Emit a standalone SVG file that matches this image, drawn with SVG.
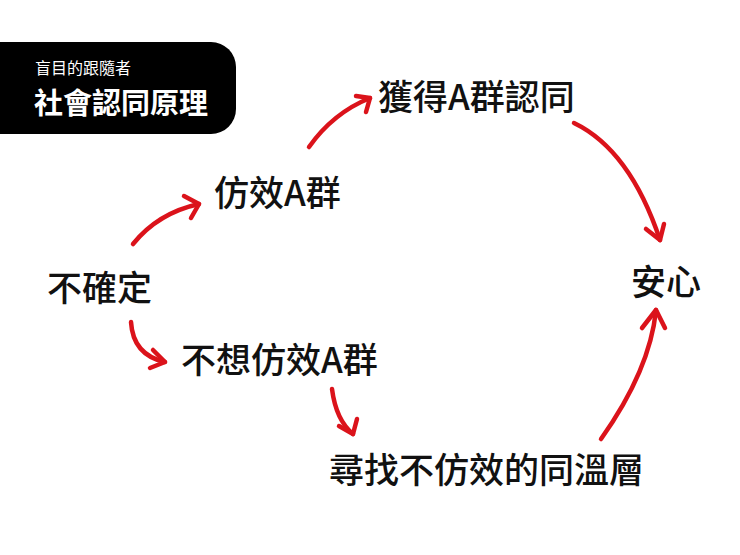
<svg xmlns="http://www.w3.org/2000/svg" width="740" height="555" viewBox="0 0 740 555">
<style>
.t{font-family:"Noto Sans CJK TC","Noto Sans CJK SC",sans-serif;font-weight:500;fill:#111;font-size:35px}
.a{fill:none;stroke:#db131b;stroke-width:4.5;stroke-linecap:round;stroke-linejoin:round}
</style>
<rect width="740" height="555" fill="#fff"/>
<g id="title">
<path d="M-10 42 H211 A25 25 0 0 1 236 67 V109 A25 25 0 0 1 211 134 H-10 Z" fill="#000"/>
<text x="35" y="74" font-family="Noto Sans CJK TC,sans-serif" font-size="16" fill="#fff">盲目的跟隨者</text>
<text x="34" y="114" font-family="Noto Sans CJK TC,sans-serif" font-weight="700" font-size="29" fill="#fff">社會認同原理</text>
</g>
<g id="n1"><text class="t" x="47" y="301">不確定</text></g>
<g id="n2"><text class="t" x="214" y="206">仿效A群</text></g>
<g id="n3"><text class="t" x="378" y="110">獲得A群認同</text></g>
<g id="n4"><text class="t" x="631" y="295">安心</text></g>
<g id="n5"><text class="t" x="181" y="373">不想仿效A群</text></g>
<g id="n6"><text class="t" x="329" y="483">尋找不仿效的同溫層</text></g>
<g id="connectors">
<path class="a" d="M133 244 Q158 213 199 204"/><path class="a" d="M184 196 L199 204 L191 218"/>
<path class="a" d="M309 147 Q333 113 370 98"/><path class="a" d="M356 96 L370 98 L366 112"/>
<path class="a" d="M574 123 Q630 150 660 240"/><path class="a" d="M646 229 L660 240 L664 224"/>
<path class="a" d="M131 322 Q133 355 165 362"/><path class="a" d="M153 350 L165 362 L150 368"/>
<path class="a" d="M332 389 Q336 420 353 434"/><path class="a" d="M339 426 L353 434 L357 419"/>
<path class="a" d="M601 439 Q650 370 656 310"/><path class="a" d="M642 328 L656 310 L665 328"/>
</g>
</svg>
